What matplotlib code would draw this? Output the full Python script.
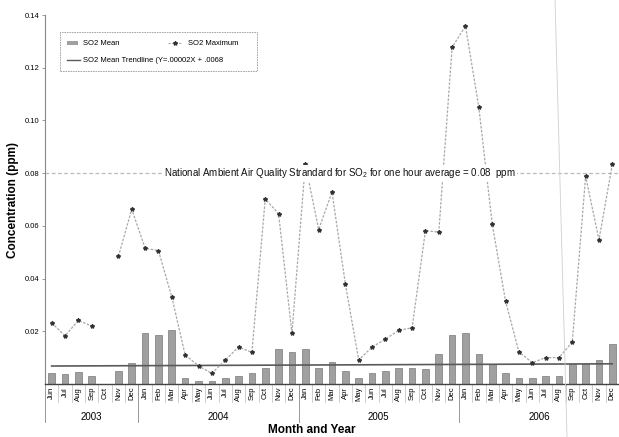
import numpy as np
import matplotlib
matplotlib.use("Agg")
import matplotlib.pyplot as plt
from matplotlib.lines import Line2D
from matplotlib.patches import Rectangle
import matplotlib.transforms as mtransforms

plt.rcParams['font.family'] = ['Liberation Sans', 'DejaVu Sans']
plt.rcParams['mathtext.default'] = 'regular'

# Months Jun 2003 .. Dec 2006
months = ["Jun", "Jul", "Aug", "Sep", "Oct", "Nov", "Dec"] + \
         ["Jan", "Feb", "Mar", "Apr", "May", "Jun", "Jul", "Aug", "Sep", "Oct", "Nov", "Dec"] * 3
years = ["2003", "2004", "2005", "2006"]
year_counts = [7, 12, 12, 12]

# SO2 monthly mean (ppm)
so2_mean = [0.0041, 0.0038, 0.0045, 0.0030, 0.0, 0.0049, 0.0078,
            0.0195, 0.0186, 0.0205, 0.0022, 0.0012, 0.0011, 0.0022, 0.0030, 0.0040, 0.0060, 0.0133, 0.0122,
            0.0131, 0.0060, 0.0082, 0.0049, 0.0022, 0.0040, 0.0049, 0.0060, 0.0060, 0.0058, 0.0114, 0.0186,
            0.0195, 0.0114, 0.0076, 0.0040, 0.0022, 0.0022, 0.0030, 0.0030, 0.0076, 0.0076, 0.0091, 0.0152]

# SO2 monthly maximum (ppm), Oct 2003 missing
so2_max = [0.0232, 0.0183, 0.0241, 0.0220, np.nan, 0.0484, 0.0663,
           0.0515, 0.0506, 0.0330, 0.0110, 0.0069, 0.0040, 0.0091, 0.0140, 0.0120, 0.0702, 0.0646, 0.0192,
           0.0835, 0.0586, 0.0728, 0.0380, 0.0091, 0.0140, 0.0170, 0.0204, 0.0213, 0.0582, 0.0576, 0.1278,
           0.1358, 0.1050, 0.0608, 0.0314, 0.0122, 0.0081, 0.0100, 0.0100, 0.0159, 0.0788, 0.0547, 0.0834]

# trendline from legend: Y = .00002X + .0068
trend_slope = 0.00002
trend_icpt = 0.0068
standard = 0.08

x = np.arange(len(months))
trend = trend_icpt + trend_slope * (x + 1)

fig = plt.figure(figsize=(6.19, 4.37), dpi=100)
ax = fig.add_axes([45 / 619, 1 - 384 / 437, 574 / 619, 369 / 437])

ax.bar(x, so2_mean, width=0.5, color='#a0a0a0', edgecolor='#7a7a7a', linewidth=0.5, zorder=2)
ax.plot(x, trend, color='#5a5a5a', lw=1.2, zorder=3)
ax.plot(x, so2_max, color='#a8a8a8', lw=0.9, linestyle=(0, (2, 1.2)),
        marker='*', markersize=3, markerfacecolor='#333333', markeredgecolor='#333333', zorder=4)

# standard line
ax.axhline(standard, color='#bbbbbb', lw=0.9, linestyle=(0, (3, 2)), zorder=1)
ax.text(21.56, standard, "National Ambient Air Quality Strandard for SO$_2$ for one hour average = 0.08  ppm",
        ha='center', va='center', fontsize=7, color='#111111', zorder=5,
        bbox=dict(facecolor='white', edgecolor='none', pad=1.0))

ax.set_xlim(-0.5, len(months) - 0.5)
ax.set_ylim(0, 0.14)
ax.set_yticks([0.02, 0.04, 0.06, 0.08, 0.10, 0.12, 0.14])
ax.set_yticklabels(["0.02", "0.04", "0.06", "0.08", "0.10", "0.12", "0.14"], fontsize=5.5)
ax.tick_params(axis='y', length=2, width=0.6, color='#888888', pad=2)
ax.set_xticks(x)
ax.set_xticklabels(months, rotation=90, fontsize=5.5)
ax.tick_params(axis='x', length=0, pad=2)

for s in ['top', 'right']:
    ax.spines[s].set_visible(False)
ax.spines['left'].set_color('#888888')
ax.spines['left'].set_linewidth(0.8)
ax.spines['bottom'].set_color('#444444')
ax.spines['bottom'].set_linewidth(1.0)

ax.set_ylabel("Concentration (ppm)", fontsize=8.5, fontweight='bold', labelpad=4)

# month / year separators under the axis
trans = mtransforms.blended_transform_factory(ax.transData, ax.transAxes)
for i in range(len(months) - 1):
    ax.plot([i + 0.5, i + 0.5], [0, -18 / 369], transform=trans, color='#bbbbbb', lw=0.5, clip_on=False)
edges = np.cumsum([0] + year_counts) - 0.5
for e in edges[:-1]:
    ax.plot([e, e], [0, -38 / 369], transform=trans, color='#999999', lw=0.7, clip_on=False)
for k, yr in enumerate(years):
    ax.text((edges[k] + edges[k + 1]) / 2, -33 / 369, yr, transform=trans,
            ha='center', va='center', fontsize=7)
ax.text(0.5 * (len(months) - 1) - 1.5, -46 / 369, "Month and Year", transform=trans,
        ha='center', va='center', fontsize=8.5, fontweight='bold')

# legend box drawn by hand
ax.add_patch(Rectangle((0.026, 0.848), 0.343, 0.106, transform=ax.transAxes, fill=False,
                       edgecolor='#999999', lw=0.6, linestyle=(0, (2, 1)), zorder=6))
ax.add_patch(Rectangle((0.038, 0.918), 0.019, 0.011, transform=ax.transAxes,
                       facecolor='#a0a0a0', edgecolor='none', zorder=6))
ax.text(0.066, 0.924, "SO2 Mean", transform=ax.transAxes, fontsize=5.5, va='center', zorder=6)
ax.plot([0.214, 0.239], [0.924, 0.924], transform=ax.transAxes, color='#a8a8a8', lw=0.8,
        linestyle=(0, (2, 1.2)), zorder=6)
ax.plot([0.2265], [0.924], transform=ax.transAxes, marker='*', markersize=3, color='#333333', zorder=6)
ax.text(0.249, 0.924, "SO2 Maximum", transform=ax.transAxes, fontsize=5.5, va='center', zorder=6)
ax.plot([0.038, 0.061], [0.878, 0.878], transform=ax.transAxes, color='#5a5a5a', lw=1.0, zorder=6)
ax.text(0.066, 0.878, "SO2 Mean Trendline (Y=.00002X + .0068", transform=ax.transAxes,
        fontsize=5.5, va='center', zorder=6)

# faint scan line in the original
fig.add_artist(Line2D([555 / 619, 567 / 619], [1, 0], color='#d0d0d0', lw=0.6))

fig.savefig("out.png", dpi=100)
